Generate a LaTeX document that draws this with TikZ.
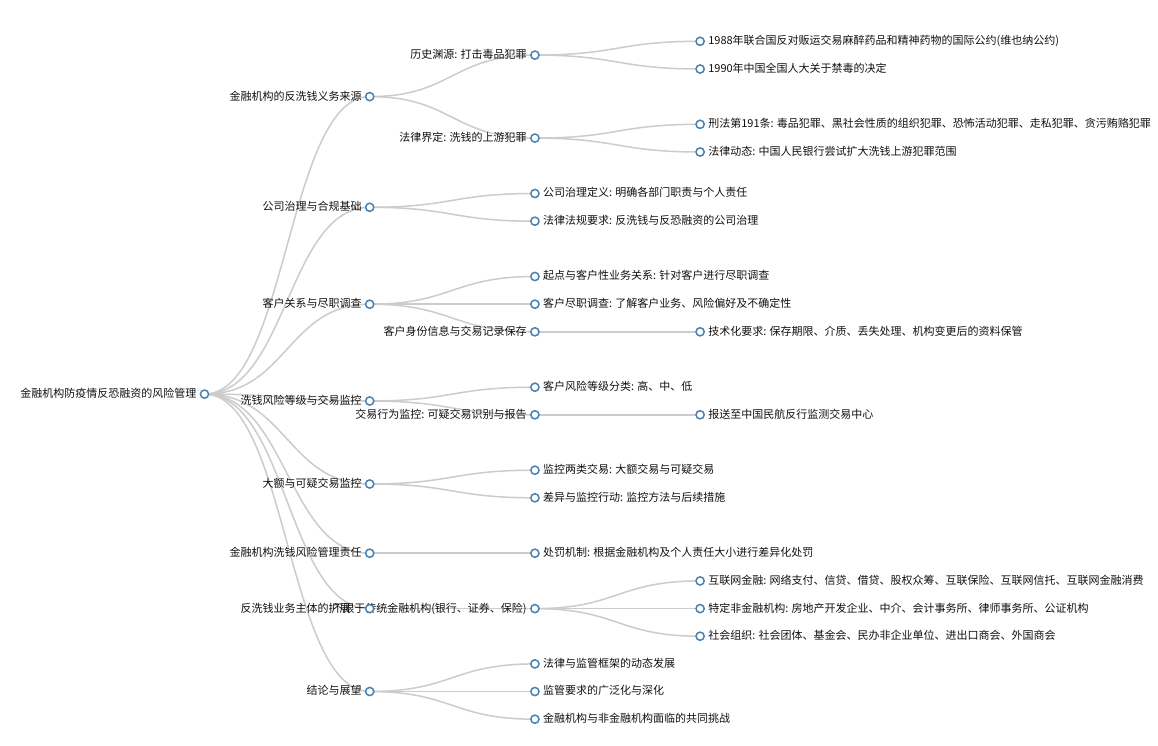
\documentclass[tikz,border=0pt]{standalone}
\usepackage{fontspec}
\setmainfont{Noto Sans CJK SC}
\usetikzlibrary{calc}
\definecolor{nodeblue}{HTML}{4682B4}
\definecolor{linkgray}{HTML}{CCCCCC}
\definecolor{txtcol}{HTML}{111111}
\pgfdeclarelayer{linklayer}
\pgfdeclarelayer{textlayer}
\pgfsetlayers{linklayer,textlayer,main}
\newcommand\tlink[2]{\draw[treelink] let \p1=(#1.center), \p2=(#2.center) in (\p1) .. controls ({0.5*\x1+0.5*\x2},\y1) and ({0.5*\x1+0.5*\x2},\y2) .. (\p2);}
\newcommand\tnodeL[5][-8pt]{\node[dot] (#2) at (#3,#4) {};
  \begin{pgfonlayer}{textlayer}\node[ltxt] (#2-t) at ([xshift=#1,yshift=-3.4pt]#2.center) {#5};\end{pgfonlayer}}
\newcommand\tnodeR[4]{\node[dot] (#1) at (#2,#3) {};
  \begin{pgfonlayer}{textlayer}\node[rtxt] (#1-t) at ([xshift=8pt,yshift=-3.4pt]#1.center) {#4};\end{pgfonlayer}}
\begin{document}
\begin{tikzpicture}[x=1pt,y=-1pt,
  dot/.style={circle,draw=nodeblue,fill=white,line width=1.5pt,minimum size=8.2pt,inner sep=0pt},
  treelink/.style={draw=linkgray,line width=1.5pt},
  ltxt/.style={anchor=base east,inner sep=0pt,text=txtcol,font=\fontsize{11}{13}\selectfont},
  rtxt/.style={anchor=base west,inner sep=0pt,text=txtcol,font=\fontsize{11}{13}\selectfont}]
\begin{pgfonlayer}{linklayer}
\fill[white] (0,0) rectangle (1158,745);
\end{pgfonlayer}
\useasboundingbox (0,0) rectangle (1158,745);
% root
\tnodeL{r}{204.5}{394.1}{金融机构防疫情反恐融资的风险管理}
% level 1
\tnodeL{a1}{369.7}{96.6}{金融机构的反洗钱义务来源}
\tnodeL{a2}{369.7}{207.3}{公司治理与合规基础}
\tnodeL{a3}{369.7}{304.2}{客户关系与尽职调查}
\tnodeL{a4}{369.7}{401.0}{洗钱风险等级与交易监控}
\tnodeL{a5}{369.7}{484.0}{大额与可疑交易监控}
\tnodeL{a6}{369.7}{553.2}{金融机构洗钱风险管理责任}
\tnodeL[-19pt]{a7}{369.7}{608.6}{反洗钱业务主体的扩展}
\tnodeL{a8}{369.7}{691.5}{结论与展望}
% level 2
\tnodeL{b1}{534.9}{55.1}{历史渊源: 打击毒品犯罪}
\tnodeL{b2}{534.9}{138.1}{法律界定: 洗钱的上游犯罪}
\tnodeR{b3}{534.9}{193.5}{公司治理定义: 明确各部门职责与个人责任}
\tnodeR{b4}{534.9}{221.2}{法律法规要求: 反洗钱与反恐融资的公司治理}
\tnodeR{b5}{534.9}{276.5}{起点与客户性业务关系: 针对客户进行尽职调查}
\tnodeR{b6}{534.9}{304.2}{客户尽职调查: 了解客户业务、风险偏好及不确定性}
\tnodeL{b7}{534.9}{331.8}{客户身份信息与交易记录保存}
\tnodeR{b8}{534.9}{387.2}{客户风险等级分类: 高、中、低}
\tnodeL{b9}{534.9}{414.8}{交易行为监控: 可疑交易识别与报告}
\tnodeR{b10}{534.9}{470.2}{监控两类交易: 大额交易与可疑交易}
\tnodeR{b11}{534.9}{497.8}{差异与监控行动: 监控方法与后续措施}
\tnodeR{b12}{534.9}{553.2}{处罚机制: 根据金融机构及个人责任大小进行差异化处罚}
\tnodeL{b13}{534.9}{608.6}{不限于传统金融机构(银行、证券、保险)}
\tnodeR{b14}{534.9}{663.9}{法律与监管框架的动态发展}
\tnodeR{b15}{534.9}{691.5}{监管要求的广泛化与深化}
\tnodeR{b16}{534.9}{719.2}{金融机构与非金融机构面临的共同挑战}
% level 3
\tnodeR{c1}{700.1}{41.3}{1988年联合国反对贩运交易麻醉药品和精神药物的国际公约(维也纳公约)}
\tnodeR{c2}{700.1}{69.0}{1990年中国全国人大关于禁毒的决定}
\tnodeR{c3}{700.1}{124.3}{刑法第191条: 毒品犯罪、黑社会性质的组织犯罪、恐怖活动犯罪、走私犯罪、贪污贿赂犯罪}
\tnodeR{c4}{700.1}{152.0}{法律动态: 中国人民银行尝试扩大洗钱上游犯罪范围}
\tnodeR{c5}{700.1}{331.8}{技术化要求: 保存期限、介质、丢失处理、机构变更后的资料保管}
\tnodeR{c6}{700.1}{414.8}{报送至中国民航反行监测交易中心}
\tnodeR{c7}{700.1}{580.9}{互联网金融: 网络支付、信贷、借贷、股权众筹、互联保险、互联网信托、互联网金融消费}
\tnodeR{c8}{700.1}{608.6}{特定非金融机构: 房地产开发企业、中介、会计事务所、律师事务所、公证机构}
\tnodeR{c9}{700.1}{636.2}{社会组织: 社会团体、基金会、民办非企业单位、进出口商会、外国商会}
% links
\begin{pgfonlayer}{linklayer}
\foreach \u/\v in {r/a1,r/a2,r/a3,r/a4,r/a5,r/a6,r/a7,r/a8,
  a1/b1,a1/b2,a2/b3,a2/b4,a3/b5,a3/b6,a3/b7,a4/b8,a4/b9,a5/b10,a5/b11,
  a6/b12,a7/b13,a8/b14,a8/b15,a8/b16,
  b1/c1,b1/c2,b2/c3,b2/c4,b7/c5,b9/c6,b13/c7,b13/c8,b13/c9}
  {\tlink{\u}{\v}}
\end{pgfonlayer}
\end{tikzpicture}
\end{document}
